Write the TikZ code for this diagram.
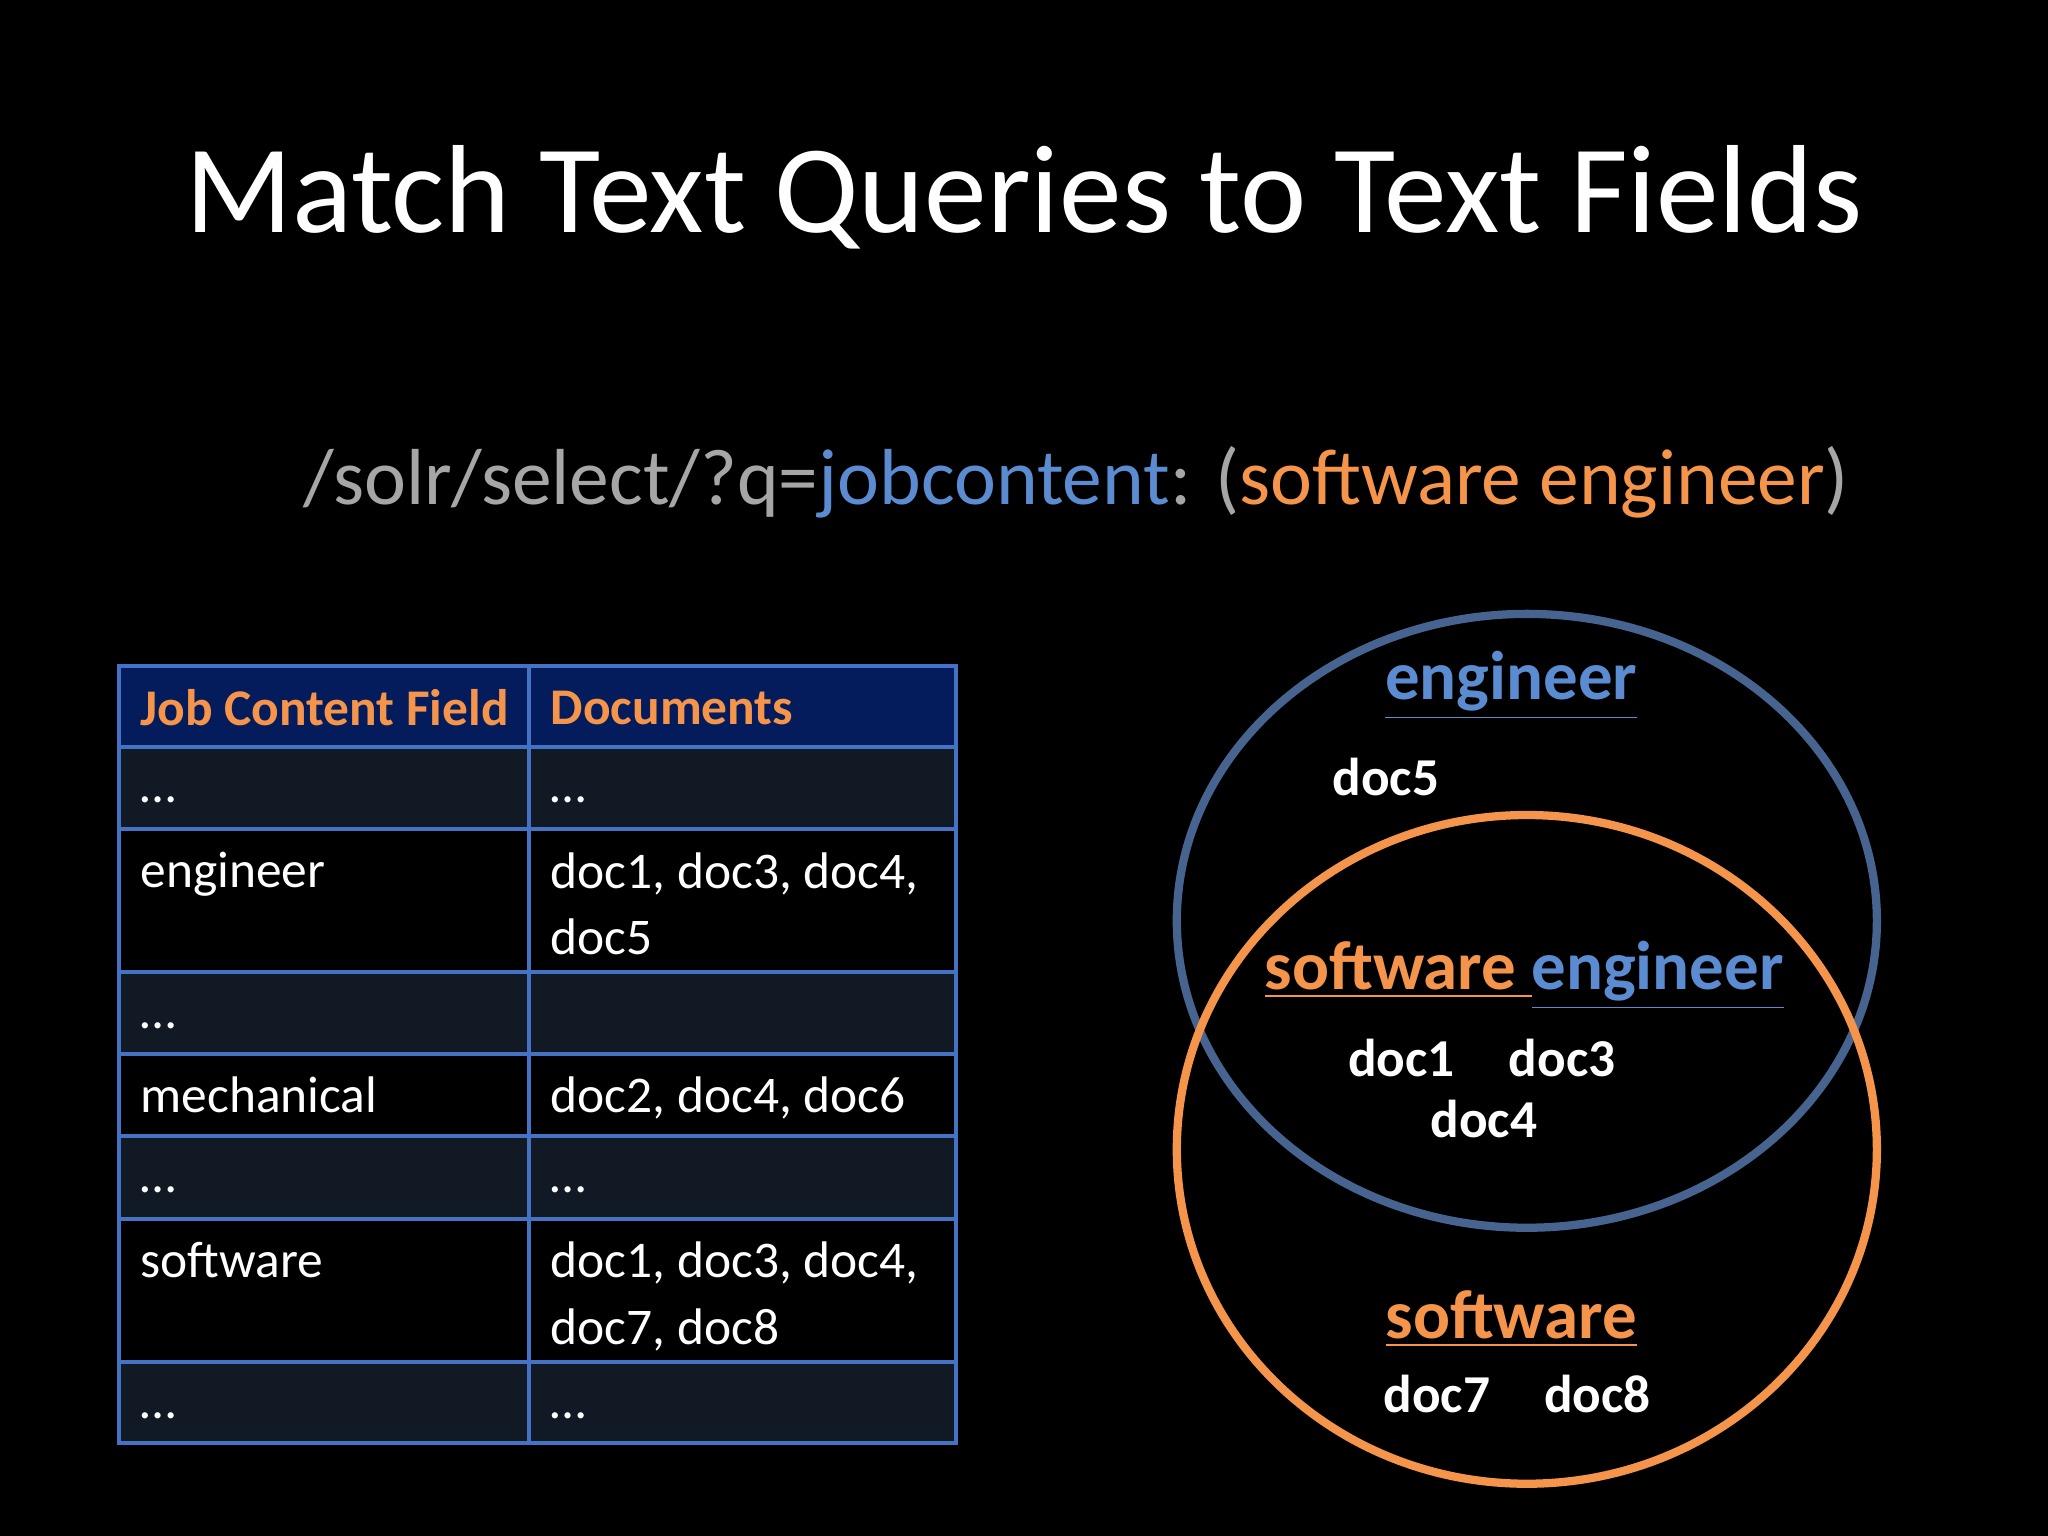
\documentclass[tikz,border=0pt]{standalone}
\usepackage{fontspec}
\setmainfont{Carlito}
\begin{document}
\begin{tikzpicture}[x=0.01cm,y=-0.01cm,
 cell/.style={draw=hdrline,line width=0.9pt},
 ct/.style={anchor=north west,text=white,font=\fontsize{11.2}{14.5}\selectfont,align=left,inner sep=0},
 hd/.style={anchor=west,text=orng,font=\bfseries\fontsize{11.2}{14}\selectfont,inner sep=0},
 dl/.style={text=white,font=\bfseries\fontsize{11.6}{14}\selectfont},
 vl/.style={font=\bfseries\fontsize{15}{18}\selectfont,inner sep=0}]
\definecolor{hdrline}{HTML}{4472C4}
\definecolor{hdr}{HTML}{041C5C}
\definecolor{odd}{HTML}{111924}
\definecolor{orng}{HTML}{F5954B}
\definecolor{blu}{HTML}{5B8BD0}
\definecolor{gry}{HTML}{A6A6A6}
\definecolor{bell}{HTML}{46648F}
\fill[black] (0,0) rectangle (1568,1176);
\useasboundingbox (0,0) rectangle (1568,1176);
\node[text=white,font=\fontsize{27.3}{30}\selectfont,anchor=base] (title) at (784,178) {Match Text Queries to Text Fields};
\node[font=\fontsize{17.3}{20}\selectfont,anchor=base west,inner sep=0] (q) at (232,386) {\textcolor{gry}{/solr/select/?q=}\textcolor{blu}{jobcontent}\textcolor{gry}{: (}\textcolor{orng}{software engineer}\textcolor{gry}{)}};
% table
\fill[hdr] (91,510) rectangle (732,572);
\foreach \a/\b in {572/635,744/807,870/933,1043/1105} \fill[odd] (91,\a) rectangle (732,\b);
\draw[cell] (91,510) rectangle (732,1105);
\draw[cell] (405,510) -- (405,1105);
\foreach \y in {572,635,744,807,870,933,1043} \draw[cell] (91,\y) -- (732,\y);
\node[hd] (h1) at (107,542) {Job Content Field};
\node[hd] (h2) at (421,542) {Documents};
\node[ct] (r1a) at (107,609) {\dots}; \node[ct] (r1b) at (421,609) {\dots};
\node[ct] (r2a) at (107,652) {engineer}; \node[ct] (r2b) at (421,652) {doc1, doc3, doc4,\\doc5};
\node[ct] (r3a) at (107,782) {\dots};
\node[ct] (r4a) at (107,824) {mechanical}; \node[ct] (r4b) at (421,824) {doc2, doc4, doc6};
\node[ct] (r5a) at (107,908) {\dots}; \node[ct] (r5b) at (421,908) {\dots};
\node[ct] (r6a) at (107,950) {software}; \node[ct] (r6b) at (421,950) {doc1, doc3, doc4,\\doc7, doc8};
\node[ct] (r7a) at (107,1081) {\dots}; \node[ct] (r7b) at (421,1081) {\dots};
% venn
\draw[bell,line width=1.8pt] (1169,705) ellipse [x radius=268,y radius=235];
\draw[orng,line width=1.8pt] (1169,880) ellipse [x radius=268,y radius=256];
\node[vl,text=blu] (e) at (1157,525) {\underline{engineer}};
\node[dl] (d5) at (1061,595) {doc5};
\node[vl] (se) at (1167,747) {\textcolor{orng}{\underline{software }}\textcolor{blu}{\underline{engineer}}};
\node[dl] (d1) at (1073,810) {doc1};
\node[dl] (d3) at (1196,810) {doc3};
\node[dl] (d4) at (1136,857) {doc4};
\node[vl,text=orng] (s) at (1157,1010) {\underline{software}};
\node[dl] (d7) at (1100,1067) {doc7};
\node[dl] (d8) at (1223,1067) {doc8};
\end{tikzpicture}
\end{document}
